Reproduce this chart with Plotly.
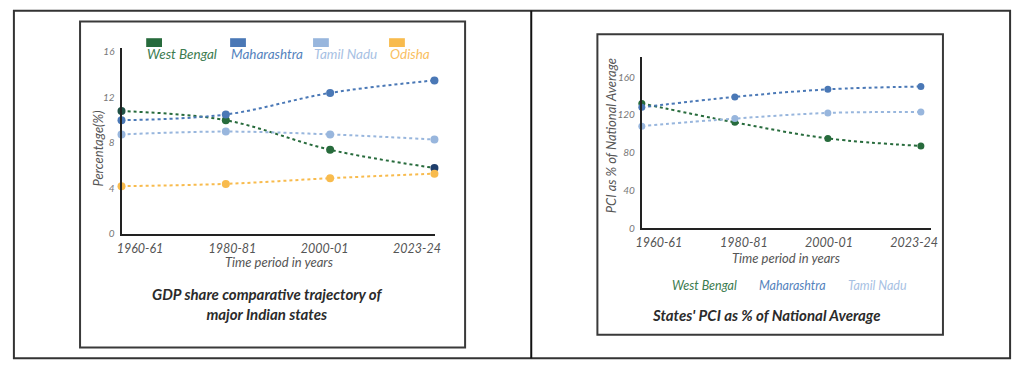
import plotly.graph_objects as go

# ---------------- data ----------------
periods = ["1960-61", "1980-81", "2000-01", "2023-24"]

gdp_states = ["West Bengal", "Maharashtra", "Tamil Nadu", "Odisha"]
gdp_west_bengal = [10.8, 10.0, 7.4, 5.8]
gdp_maharashtra = [10.0, 10.5, 12.4, 13.5]
gdp_tamil_nadu = [8.75, 9.0, 8.75, 8.3]
gdp_odisha = [4.2, 4.4, 4.9, 5.3]
gdp_ticks = [0, 4, 8, 12, 16]

pci_states = ["West Bengal", "Maharashtra", "Tamil Nadu"]
pci_west_bengal = [132, 112, 95, 87]
pci_maharashtra = [128, 139, 147, 150]
pci_tamil_nadu = [108, 116, 122, 123]
pci_ticks = [0, 40, 80, 120, 160]

gdp_title = "GDP share comparative trajectory of<br>major Indian states"
pci_title = "States' PCI as % of National Average"
x_title = "Time period in years"
gdp_y_title = "Percentage(%)"
pci_y_title = "PCI as % of National Average"

# ---------------- style ----------------
W, H = 1024, 373
line_colors = ["#276b3c", "#4a78b6", "#98b6dd", "#f8bb4d"]
legend_text_colors = ["#3c7c50", "#5583bd", "#a7c1e3", "#f9c062"]
FONT = "Lato"


def px(x):
    return x / W


def py(y):
    return 1 - y / H


fig = go.Figure()

gdp_series = [gdp_west_bengal, gdp_maharashtra, gdp_tamil_nadu, gdp_odisha]
xs = list(range(len(periods)))
for i, (name, vals) in enumerate(zip(gdp_states, gdp_series)):
    mcol = line_colors[i]
    if i == 0:
        mcol = ["#1f5145", line_colors[0], line_colors[0], "#1e3d6b"]
    fig.add_trace(go.Scatter(
        x=xs, y=vals, name=name, mode="lines+markers",
        line=dict(color=line_colors[i], width=2, dash="3px,3px", shape="spline", smoothing=1),
        marker=dict(color=mcol, size=8),
        xaxis="x", yaxis="y", showlegend=False, cliponaxis=False,
    ))

pci_series = [pci_west_bengal, pci_maharashtra, pci_tamil_nadu]
for i, (name, vals) in enumerate(zip(pci_states, pci_series)):
    fig.add_trace(go.Scatter(
        x=xs, y=vals, name=name, mode="lines+markers",
        line=dict(color=line_colors[i], width=2, dash="3px,3px", shape="spline", smoothing=1),
        marker=dict(color=line_colors[i], size=7),
        xaxis="x2", yaxis="y2", showlegend=False, cliponaxis=False,
    ))


def label_positions(xmin, xmax, n, pad=0.2):
    return [xmin + (i + pad) / (n - 1 + 2 * pad) * (xmax - xmin) for i in range(n)]


n = len(periods)
x1_range = [0, n - 1 + 0.01]
x2_range = [0, n - 1 + 0.11]

tickfont = dict(family=FONT, size=12.5, color="#555", style="italic")
ytickfont = dict(family=FONT, size=10, color="#777", style="italic")

common_x = dict(showline=True, linecolor="#222", linewidth=2, showgrid=False, zeroline=False,
                ticks="", tickfont=tickfont, ticklabelstandoff=2)
common_y = dict(showline=True, linecolor="#222", linewidth=2, showgrid=False, zeroline=False,
                ticks="", tickfont=ytickfont, ticklabelstandoff=3)

fig.update_layout(
    width=W, height=H, margin=dict(l=0, r=0, t=0, b=0),
    paper_bgcolor="white", plot_bgcolor="white",
    hovermode=False,
    xaxis=dict(domain=[px(117), px(435)], range=x1_range, anchor="y",
               tickvals=label_positions(x1_range[0], x1_range[1], n), ticktext=periods, **common_x),
    yaxis=dict(domain=[py(237), py(47)], range=[0, 16.35], anchor="x",
               tickvals=gdp_ticks, **common_y),
    xaxis2=dict(domain=[px(644), px(937)], range=x2_range, anchor="y2",
                tickvals=label_positions(x2_range[0], x2_range[1], n), ticktext=periods, **common_x),
    yaxis2=dict(domain=[py(231), py(56)], range=[0, 181.5], anchor="x2",
                tickvals=pci_ticks, **common_y),
)

# frames
frame = dict(type="rect", xref="paper", yref="paper", fillcolor="rgba(0,0,0,0)")
fig.add_shape(x0=px(8), x1=px(1017), y0=py(364), y1=py(9), line=dict(color="#333", width=2), **frame)
fig.add_shape(type="line", xref="paper", yref="paper", x0=px(532), x1=px(532), y0=py(364), y1=py(9),
              line=dict(color="#111", width=2))
fig.add_shape(x0=px(75), x1=px(465), y0=py(353), y1=py(20), line=dict(color="#3a3a3a", width=2), **frame)
fig.add_shape(x0=px(599), x1=px(949), y0=py(340), y1=py(33), line=dict(color="#3a3a3a", width=2), **frame)

# left legend (swatch above label)
legend_left_x = [142, 227, 311, 388]
for i, name in enumerate(gdp_states):
    x0 = legend_left_x[i]
    fig.add_shape(type="rect", xref="paper", yref="paper", x0=px(x0), x1=px(x0 + 16),
                  y0=py(46), y1=py(37), fillcolor=line_colors[i], line=dict(width=0))
    fig.add_annotation(x=px(x0 - 1), y=py(53), xref="paper", yref="paper", text=name,
                       showarrow=False, xanchor="left", yanchor="middle",
                       font=dict(family=FONT, size=13.5, color=legend_text_colors[i], style="italic"))

# right legend (text only)
legend_right_x = [707, 797, 883]
for i, name in enumerate(pci_states):
    fig.add_annotation(x=px(legend_right_x[i]), y=py(290), xref="paper", yref="paper", text=name,
                       showarrow=False, xanchor="center", yanchor="middle",
                       font=dict(family=FONT, size=12.5, color=legend_text_colors[i], style="italic"))

# axis titles
axfont = dict(family=FONT, size=13, color="#555", style="italic")
fig.add_annotation(x=px(277), y=py(266), xref="paper", yref="paper", text=x_title, showarrow=False,
                   font=axfont, xanchor="center", yanchor="middle")
fig.add_annotation(x=px(790), y=py(262), xref="paper", yref="paper", text=x_title, showarrow=False,
                   font=axfont, xanchor="center", yanchor="middle")
fig.add_annotation(x=px(93), y=py(150), xref="paper", yref="paper", text=gdp_y_title, showarrow=False,
                   font=axfont, textangle=-90, xanchor="center", yanchor="middle")
fig.add_annotation(x=px(613), y=py(137), xref="paper", yref="paper", text=pci_y_title, showarrow=False,
                   font=axfont, textangle=-90, xanchor="center", yanchor="middle")

# chart titles
tfont = dict(family=FONT, size=15, color="#2b2b2b", weight="bold", style="italic")
fig.add_annotation(x=px(265), y=py(309), xref="paper", yref="paper", text=gdp_title, showarrow=False,
                   font=tfont, xanchor="center", yanchor="middle", align="center")
fig.add_annotation(x=px(770), y=py(320), xref="paper", yref="paper", text=pci_title, showarrow=False,
                   font=tfont, xanchor="center", yanchor="middle")

fig.write_html(
    "out.html",
    config={"displayModeBar": False, "staticPlot": True},
    post_script="document.body.style.margin='0px';document.body.style.overflow='hidden';",
)
